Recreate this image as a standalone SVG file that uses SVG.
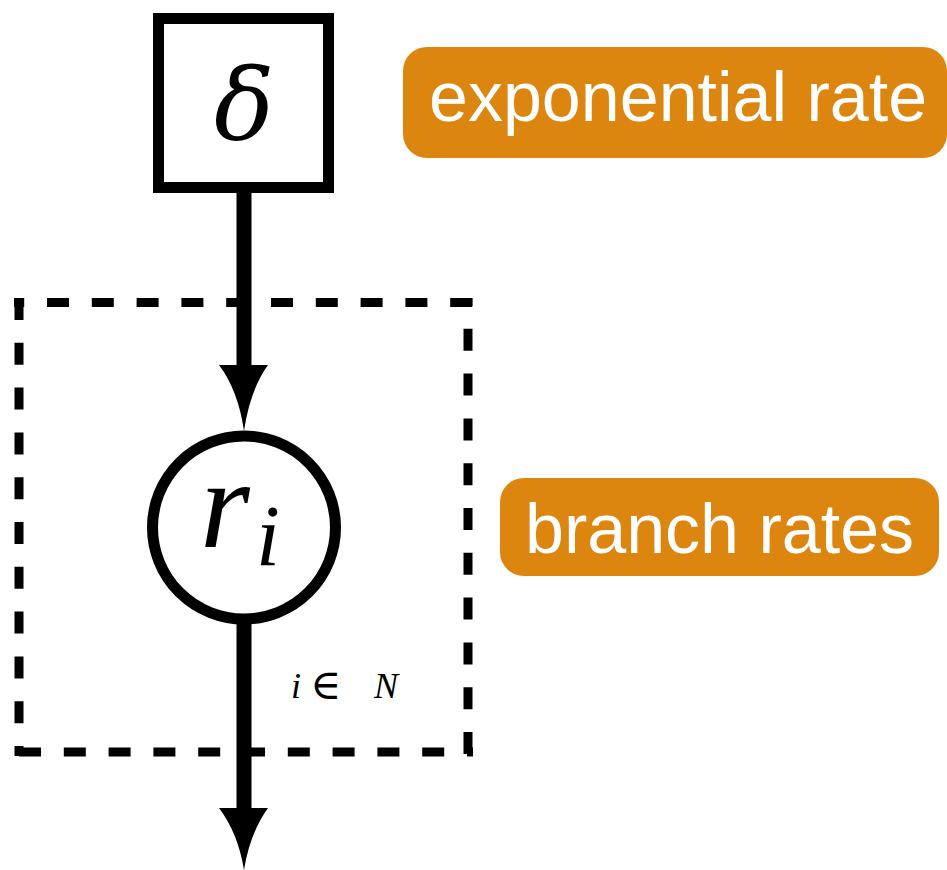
<svg xmlns="http://www.w3.org/2000/svg" width="947" height="870" viewBox="0 0 947 870">
<style>
.math{font-family:"Liberation Serif","DejaVu Serif",serif;font-style:italic;fill:#000}
.lbl{font-family:"Liberation Sans",Arial,sans-serif;font-size:70px;fill:#fff}
.tag{fill:#dc850f}
.edge{stroke:#000;stroke-width:15;fill:none}
.head{fill:#000}
.plate{stroke:#000;stroke-width:9;fill:none;stroke-dasharray:22 22.8}
</style>
<rect width="947" height="870" fill="#fff"/>
<g id="plate">
<line class="plate" x1="19" y1="298" x2="19" y2="756" stroke-dashoffset="0"/>
<line class="plate" x1="14" y1="302.5" x2="473" y2="302.5" stroke-dashoffset="11.8"/>
<line class="plate" x1="468" y1="298" x2="468" y2="756" stroke-dashoffset="14"/>
<line class="plate" x1="14" y1="752" x2="473" y2="752" stroke-dashoffset="39.8"/>
<text class="math" font-size="36"><tspan x="291" y="698">i</tspan><tspan x="310" y="699" font-style="normal" font-size="42">∈</tspan><tspan x="374" y="698">N</tspan></text>
</g>
<g id="connectors">
<line class="edge" x1="244" y1="188" x2="244" y2="370"/>
<path class="head" d="M219,365 L268,365 Q250,390 244,431 Q238,390 219,365 Z"/>
<line class="edge" x1="244" y1="620" x2="244" y2="813"/>
<path class="head" d="M219,808 L268,808 Q250,833 244,870 Q238,833 219,808 Z"/>
</g>
<g id="delta">
<rect x="158.5" y="18.5" width="170" height="169" fill="#fff" stroke="#000" stroke-width="11"/>
<text x="244" y="140" font-size="100" text-anchor="middle" font-family="DejaVu Serif,serif" font-style="italic">δ</text>
</g>
<g id="r_i">
<circle cx="244" cy="527.5" r="91.5" fill="#fff" stroke="#000" stroke-width="11"/>
<text class="math" x="200" y="547" font-size="128">r<tspan x="256" y="565" font-size="86">i</tspan></text>
</g>
<g id="label-exponential">
<rect class="tag" x="403" y="47" width="544" height="111" rx="24"/>
<text class="lbl" x="429" y="121">exponential rate</text>
</g>
<g id="label-branch">
<rect class="tag" x="500" y="478" width="439" height="98" rx="24"/>
<text class="lbl" x="525" y="553">branch rates</text>
</g>
</svg>
